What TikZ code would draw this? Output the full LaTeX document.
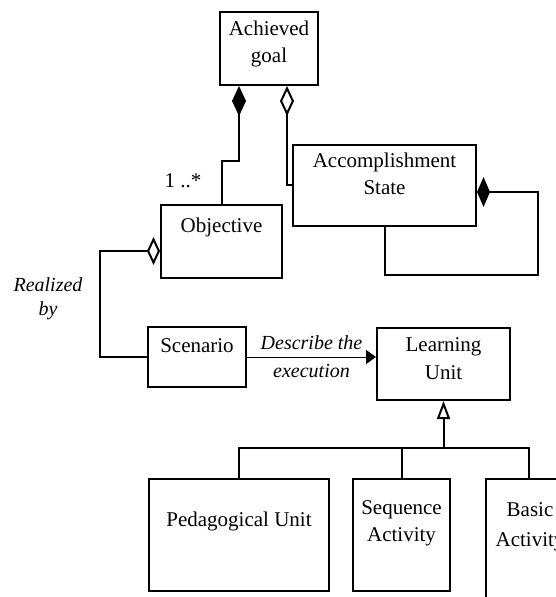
\documentclass[tikz,border=0pt]{standalone}
\usepackage{fontspec}
\setmainfont{Liberation Serif}
\usetikzlibrary{arrows.meta}

\begin{document}
\begin{tikzpicture}[x=0.5pt, y=-0.5pt, font=\fontsize{10.5}{13.5}\selectfont,
  box/.style = {draw, line width=1pt, inner sep=0pt},
  txt/.style = {align=center, inner sep=0pt, anchor=base},
  link/.style = {line width=1pt},
  comp/.style = {link, {Diamond[length=15pt,width=7pt]}-},
  aggr/.style = {link, {Diamond[open,length=15pt,width=7pt]}-},
  compside/.style = {link, {Diamond[length=6.5pt,width=15pt]}-},
  aggrside/.style = {link, {Diamond[open,length=6.5pt,width=14pt]}-},
  gen/.style = {link, -{Triangle[open,length=9pt,width=6.5pt]}}]
  \useasboundingbox (0,0) rectangle (555,597);
  \node[box, minimum width=49pt, minimum height=36.5pt] (achieved) at (269,48.5) {};
  \node[box, minimum width=91.5pt, minimum height=40.5pt] (accomp) at (384.5,185.5) {};
  \node[box, minimum width=60.5pt, minimum height=36.5pt] (objective) at (221.5,241.5) {};
  \node[box, minimum width=49pt, minimum height=30pt] (scenario) at (197,357) {};
  \node[box, minimum width=66.5pt, minimum height=36pt] (lunit) at (443.5,364) {};
  \node[box, minimum width=90pt, minimum height=56pt] (pedag) at (239,535) {};
  \node[box, minimum width=48.5pt, minimum height=56pt] (seqact) at (401.5,535) {};
  \node[box, minimum width=43pt, minimum height=85.5pt] (basicact) at (529,564.5) {};
  \node[txt] (achievedtxt) at (269,63) {Achieved\\goal};
  \node[txt] (accomptxt) at (384.5,195) {Accomplishment\\State};
  \node[txt] (objectivetxt) at (221.5,233) {Objective};
  \node[txt] (scenariotxt) at (197,352) {Scenario};
  \node[txt] (lunittxt) at (443.5,379) {Learning\\Unit};
  \node[txt] (pedagtxt) at (239,526) {Pedagogical Unit};
  \node[txt] (seqacttxt) at (401.5,541) {Sequence\\Activity};
  \node[txt] (basicacttxt) at (530,546) {Basic\\[1.5pt]Activity};
  \node[txt] (mult) at (183,188) {1 ..*};
  \node[txt, font=\itshape] (realized) at (48,316) {Realized\\by};
  \coordinate (gbar) at (443,448);
  \draw[comp] ([xshift=-15pt]achieved.south) -- ++(0,75) -| (objective.north);
  \draw[aggr] ([xshift=9pt]achieved.south) |- (accomp.west);
  \draw[compside] ([yshift=-3.25pt]accomp.east) -- ++(61,0) |- ([yshift=-24pt]accomp.south) -- (accomp.south);
  \draw[aggrside] ([yshift=-4.75pt]objective.west) -- ++(-60,0) |- (scenario.west);
  \draw[-{Triangle[length=5pt,width=7pt]}, line width=0.5pt] (scenario.east) to
node[midway, above, font=\itshape] {Describe the}
node[midway, below, font=\itshape] {execution} (lunit.west |- scenario.east);
  \draw[gen] (gbar) -- (lunit.south |- gbar) -- (lunit.south);
  \draw[link] (pedag.north) -- (pedag.north |- gbar) -- (basicact.north |- gbar) -- (basicact.north);
  \draw[link] (seqact.north) -- (seqact.north |- gbar);
\end{tikzpicture}
\end{document}
